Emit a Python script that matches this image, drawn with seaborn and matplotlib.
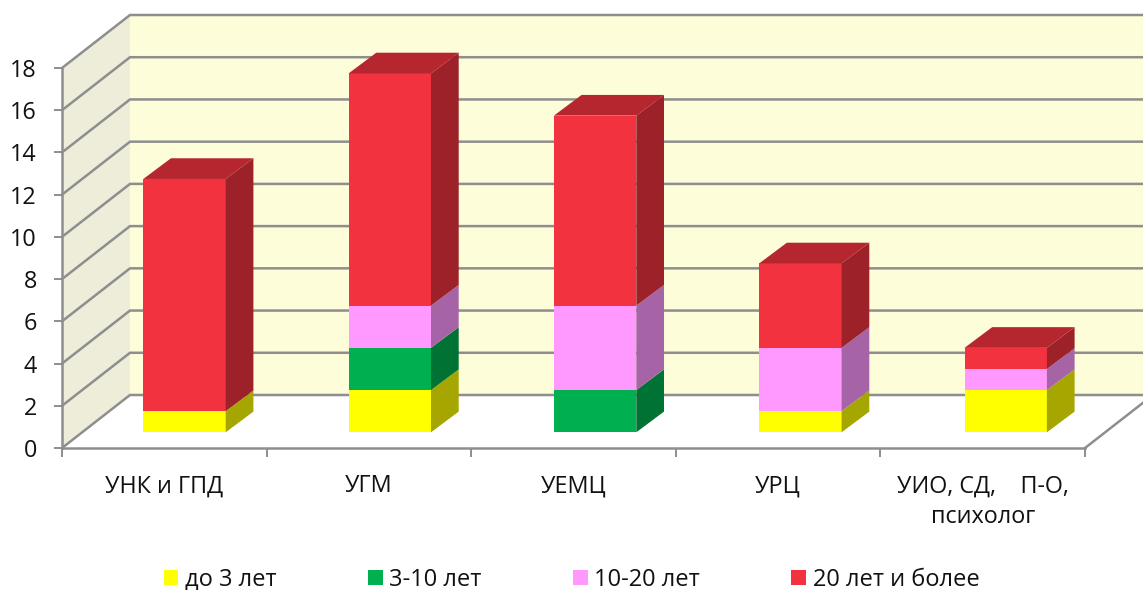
import matplotlib
matplotlib.use('Agg')
import matplotlib.pyplot as plt
import seaborn as sns
import numpy as np
import pandas as pd
from matplotlib.colors import to_rgb
from matplotlib.patches import Patch, Polygon

categories = ['УНК и ГПД', 'УГМ', 'УЕМЦ', 'УРЦ', 'УИО, СД,    П-О,\nпсихолог']
series_names = ['до 3 лет', '3-10 лет', '10-20 лет', '20 лет и более']
up_to_3 = [1, 2, 0, 1, 2]
from_3_to_10 = [0, 2, 2, 0, 0]
from_10_to_20 = [0, 2, 4, 3, 1]
over_20 = [11, 11, 9, 4, 1]
y_ticks = list(range(0, 20, 2))
colors = ['#FFFF00', '#00B050', '#FF99FF', '#F2323F']

W, H = 1143, 590
GREY = '#8E8E8E'
FONT = 16.8

sns.set_theme(style='white')
plt.rcParams['font.family'] = ['Open Sans', 'DejaVu Sans']

df = pd.DataFrame({'category': categories, series_names[0]: up_to_3, series_names[1]: from_3_to_10,
                   series_names[2]: from_10_to_20, series_names[3]: over_20})

fig = plt.figure(figsize=(W / 100, H / 100), dpi=100)


def px_axes(left, right, top, bottom):
    return fig.add_axes([left / W, (H - bottom) / H, (right - left) / W, (bottom - top) / H])


# front plane of the fake 3d box, bars sit in a second axes shifted into the depth
ax = px_axes(62, 1085, 68, 448)
ax_bars = px_axes(81.85, 1108.35, 52.3, 432.3)
ax.set_xlim(-0.5, 4.5)
ax.set_ylim(0, 18)
ax.patch.set_alpha(0)
ax_bars.patch.set_alpha(0)

px_x = 1023 / 5
px_bar = 1026.5 / 5
px_y = 380 / 18
wall_dx, wall_dy = 68 / px_x, 53 / px_y
bar_dx, bar_dy = 27.7 / px_bar, 20.7 / px_y

# walls
x0, x1 = -0.5, 4.5
ax.add_patch(Polygon([(x0 + wall_dx, wall_dy), (x1 + wall_dx, wall_dy), (x1 + wall_dx, 18 + wall_dy), (x0 + wall_dx, 18 + wall_dy)],
                     fc='#FDFDD9', ec='none', clip_on=False, zorder=0))
ax.add_patch(Polygon([(x0, 0), (x0 + wall_dx, wall_dy), (x0 + wall_dx, 18 + wall_dy), (x0, 18)],
                     fc='#EEEDD9', ec='none', clip_on=False, zorder=0))
for v in y_ticks:
    ax.plot([x0, x0 + wall_dx, x1 + wall_dx], [v, v + wall_dy, v + wall_dy], color=GREY, lw=1.8,
            clip_on=False, zorder=1, solid_joinstyle='miter')
ax.plot([x1, x1 + wall_dx], [0, wall_dy], color=GREY, lw=1.8, clip_on=False, zorder=1)

# axes
sns.despine(ax=ax)
for side in ['left', 'bottom']:
    ax.spines[side].set_color(GREY)
    ax.spines[side].set_linewidth(1.8)
ax.set_yticks(y_ticks)
ax.set_xticks(range(5))
ax.set_xticklabels(categories, fontsize=FONT, linespacing=1.36, color='#111111')
ax.set_xticks(np.arange(-0.5, 5, 1), minor=True)
ax.tick_params(axis='x', which='major', length=0, pad=19)
ax.tick_params(axis='x', which='minor', length=6.5, width=1.4, color=GREY, bottom=True)
ax.tick_params(axis='y', length=6, width=1.4, color=GREY, labelsize=FONT, labelcolor='#111111', pad=12, left=True)

# stacked fronts
bottom = np.zeros(5)
for name, color in zip(series_names, colors):
    sns.barplot(data=df, x='category', y=name, color=color, saturation=1, width=82.4 / px_bar,
                bottom=bottom, linewidth=0, ax=ax_bars)
    bottom = bottom + df[name].to_numpy()
ax_bars.set_xlim(-0.5, 4.5)
ax_bars.set_ylim(0, 18)
ax_bars.axis('off')

# side and top faces taken from the drawn bars
for p in list(ax_bars.patches):
    if p.get_height() == 0:
        continue
    left, low = p.get_x(), p.get_y()
    right, high = left + p.get_width(), low + p.get_height()
    rgb = np.array(to_rgb(p.get_facecolor()[:3]))
    ax_bars.add_patch(Polygon([(right, low), (right + bar_dx, low + bar_dy), (right + bar_dx, high + bar_dy), (right, high)],
                              fc=rgb * 0.65, ec='none', clip_on=False))
    if abs(high - bottom[round(left + p.get_width() / 2)]) < 1e-6:
        ax_bars.add_patch(Polygon([(left, high), (left + bar_dx, high + bar_dy), (right + bar_dx, high + bar_dy), (right, high)],
                                  fc=rgb * 0.75, ec='none', clip_on=False))

handles = [Patch(fc=c, ec='none') for c in colors]
fig.legend(handles, series_names, loc='center left', bbox_to_anchor=(163.5 / W, (H - 580) / H), ncol=4, frameon=False,
           fontsize=17, labelcolor='#111111', handlelength=0.63, handleheight=0.63, handletextpad=0.29,
           columnspacing=3.85, borderpad=0, borderaxespad=0)

fig.savefig('out.png', dpi=100)
